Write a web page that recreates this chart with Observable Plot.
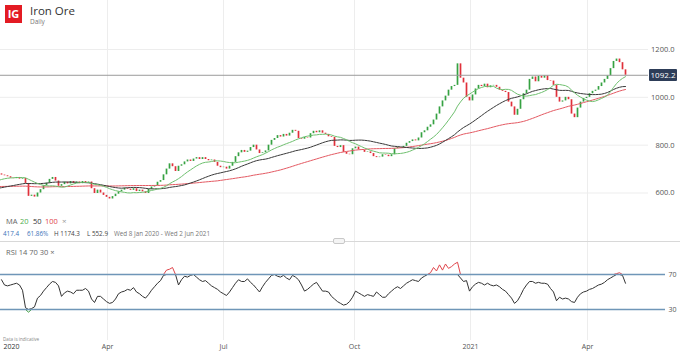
<!DOCTYPE html>
<html><head><meta charset="utf-8">
<script src="https://cdn.jsdelivr.net/npm/d3@7"></script>
<script src="https://cdn.jsdelivr.net/npm/@observablehq/plot@0.6"></script>
<style>
body{margin:0;background:#fff;font-family:"Open Sans",Roboto,sans-serif;}
#wrap{position:relative;width:680px;height:354px;overflow:hidden;background:#fff;}
.abs{position:absolute;white-space:nowrap;line-height:1;}
#wrap svg{position:absolute;left:0;overflow:visible;}
</style></head><body><div id="wrap"></div>
<script>
// ---- data ----
const closes = [675,672,668,662,660,665,658,661,640,586,591,583,600,614,630,641,657,665,650,628,
635,645,638,648,640,646,639,648,642,646,618,598,612,600,590,582,575,585,595,605,
612,620,616,611,618,606,612,605,598,615,625,630,645,652,676,700,722,710,690,712,
718,730,738,732,742,748,740,748,740,735,738,728,712,706,708,700,712,728,752,768,
778,770,775,790,800,780,765,768,776,800,820,828,840,834,845,838,850,862,858,828,
825,832,830,848,858,852,860,850,845,835,832,795,790,798,770,762,760,785,792,780,
778,770,772,765,752,748,750,760,758,752,760,785,790,788,795,808,815,822,818,830,
852,860,875,885,905,930,960,985,1005,1030,1045,1050,1140,1080,1060,1000,985,1010,1035,1050,
1045,1055,1040,1048,1050,1042,1030,1025,1020,980,960,925,950,990,1015,1030,1075,1085,1065,1088,
1080,1090,1070,1068,1050,1000,980,985,1000,990,930,915,955,980,995,1000,1015,1025,1030,1045,
1060,1075,1090,1120,1150,1160,1145,1115,1092.2];
const firstOpen = 680;
// closes before the visible range, only feeding the moving averages
const priorCloses = [665,660,652,658,648,642,650,645,638,644,640,635,642,636,630,638,634,628,632,626,
630,624,628,632,626,620,624,618,614,620,612,608,
602,596,590,594,588,584,590,586,592,598,594,600,596,604,600,606,612,608,616,
624,632,640,646,652,650,658,662,656,664,668,662,670];
const rsi14 = [64,58,57,58,59,60,58,52,32,27,31,33,43,46,51,55,59,62,61,57,
45,49,51,50,48,52,52,52,54,51,42,38,45,45,42,39,37,38,42,48,
50,51,53,52,55,50,48,45,43,47,52,56,60,63,69,75,76,78,70,58,
64,68,67,69,70,67,64,62,63,60,57,55,53,50,48,46,50,55,60,64,
62,62,65,61,58,54,50,56,61,65,69,70,68,67,69,66,64,69,67,64,
58,51,53,56,59,61,56,51,51,50,45,42,39,37,35,36,39,44,51,49,
47,45,47,46,45,50,47,44,44,48,51,54,56,54,57,60,62,64,63,62,
66,68,70,72,78,74,81,75,82,77,79,82,84,66,62,63,51,56,59,61,
60,58,60,58,57,58,56,53,51,47,43,37,40,46,53,58,62,62,60,61,
60,60,59,54,50,40,44,42,43,42,39,38,44,48,50,51,53,54,56,58,
59,61,64,66,68,71,72,69,60];
const maPeriods = [13, 32, 64];            // MA 20 / 50 / 100 days on this candle spacing
const maColors = ["#6fc06f", "#3a3a3a", "#e45a63"];
const priceTicks = [600, 800, 1000, 1200];
const rsiLevels = [70, 30];
const quarterTicks = [35.33, 74, 117.67, 156.33, 195.33];
const quarterLabels = ["Apr", "Jul", "Oct", "2021", "Apr"];
const firstLabel = "2020";
const lastPrice = 1092.2;

// ---- build ----
const wrap = document.getElementById("wrap");
const up = "#36a242", down = "#e0303a";
const candles = closes.map((c, i) => ({i, open: i === 0 ? firstOpen : closes[i - 1], close: c}));
const maSeries = priorCloses.concat(closes).map((c, j) => ({i: j - priorCloses.length, close: c}));
const rsiSeries = rsi14.map((v, i) => ({i, v}));

const font = "'Open Sans', sans-serif";
const main = Plot.plot({
  width: 680, height: 241, marginLeft: 0, marginRight: 32, marginTop: 0, marginBottom: 0,
  style: {background: "transparent", fontFamily: font, fontSize: "7.5px", color: "#555"},
  color: {type: "identity"},
  x: {domain: [-1/3, 647/3], axis: null},
  y: {domain: [397.3, 1404.8], axis: null},
  marks: [
    Plot.ruleY(priceTicks, {stroke: "#ededed"}),
    Plot.ruleX(quarterTicks, {stroke: "#ededed"}),
    Plot.ruleX(candles, {x: "i", y1: "open", y2: "close", stroke: d => d.close >= d.open ? up : down, strokeWidth: 1.7}),
    ...maPeriods.slice().reverse().map((k, j) => Plot.line(maSeries,
      Plot.windowY({k, anchor: "end"}, {x: "i", y: "close", stroke: maColors[2 - j], strokeWidth: 1, clip: true}))),
    Plot.ruleY([lastPrice], {stroke: "#9a9a9a"}),
    Plot.text(priceTicks, {y: d => d, text: d => d.toFixed(1), frameAnchor: "right", dx: 26, textAnchor: "end", fill: "#555"})
  ]
});
main.style.top = "0px";
wrap.appendChild(main);

const rsiPlot = Plot.plot({
  width: 680, height: 113, marginLeft: 0, marginRight: 15, marginTop: 0, marginBottom: 28,
  style: {background: "transparent", fontFamily: font, fontSize: "7px", color: "#555"},
  x: {domain: [-1/3, 664/3], axis: null},
  y: {domain: [10.57, 107.71], axis: null},
  marks: [
    Plot.ruleX(quarterTicks, {stroke: "#ededed", insetBottom: -14}),
    Plot.line(rsiSeries, {x: "i", y: d => Math.max(d.v, 70), stroke: "#e0454b", strokeWidth: 1}),
    Plot.line(rsiSeries, {x: "i", y: d => Math.min(d.v, 30), stroke: "#3a9a3a", strokeWidth: 1}),
    Plot.line(rsiSeries, {x: "i", y: d => Math.min(Math.max(d.v, 30), 70), stroke: "#333", strokeWidth: 1}),
    Plot.ruleY(rsiLevels, {stroke: "#6f96b8", strokeWidth: 1.4}),
    Plot.text(rsiLevels, {y: d => d, text: d => String(d), frameAnchor: "right", dx: 3, textAnchor: "start", fill: "#555"}),
    Plot.text(quarterTicks, {x: d => d, text: (d, i) => quarterLabels[i], frameAnchor: "bottom", dy: 22, fill: "#555"}),
    Plot.text([firstLabel], {text: d => d, frameAnchor: "bottom-left", dx: 3, dy: 22, textAnchor: "start", fill: "#333"})
  ]
});
rsiPlot.style.top = "241px";
wrap.appendChild(rsiPlot);

// ---- html texts ----
function txt(s, x, y, size, color, extra = "") {
  const d = document.createElement("div");
  d.className = "abs";
  d.textContent = s;
  d.style.cssText += `left:${x}px;top:${y}px;font-size:${size}px;color:${color};${extra}`;
  wrap.appendChild(d);
  return d;
}
// logo
txt("IG", 5, 5, 11, "#fff", "width:17px;height:18px;background:#e31b23;font-weight:700;text-align:center;line-height:18px;");
txt("Iron Ore", 30, 5, 11.5, "#333");
txt("Daily", 30, 19, 6.5, "#777");
// MA legend
txt("MA", 6, 218, 7.5, "#666");
txt("20", 20, 218, 7.5, "#4fae4f");
txt("50", 33, 218, 7.5, "#333");
txt("100", 45, 218, 7.5, "#e0454b");
txt("×", 62, 217, 8, "#999");
txt("417.4", 3, 231, 6.3, "#3b73b9");
txt("61.86%", 27, 231, 6.3, "#3b73b9");
txt("H 1174.3", 54, 231, 6.3, "#444");
txt("L 552.9", 87, 231, 6.3, "#444");
txt("Wed 8 Jan 2020 - Wed 2 Jun 2021", 114, 231, 6.3, "#777");
// separator
const sep = document.createElement("div");
sep.className = "abs";
sep.style.cssText += "left:0;top:241px;width:680px;height:1px;background:#d8d8d8;";
wrap.appendChild(sep);
const handle = document.createElement("div");
handle.className = "abs";
handle.style.cssText += "left:333px;top:238px;width:12px;height:6px;border:1px solid #c8c8c8;border-radius:2px;background:#f4f4f4;box-sizing:border-box;";
wrap.appendChild(handle);
txt("RSI  14  70  30  ×", 6, 249, 7.5, "#666");
txt("Data is indicative", 3, 337, 4.6, "#888");
// price tag
const yPx = main.scale("y").apply(lastPrice);
txt(lastPrice.toFixed(1), 649, yPx - 6, 8, "#fff", "width:28px;height:12px;line-height:12px;text-align:center;background:#2d3d58;border-radius:1px;");
</script></body></html>
